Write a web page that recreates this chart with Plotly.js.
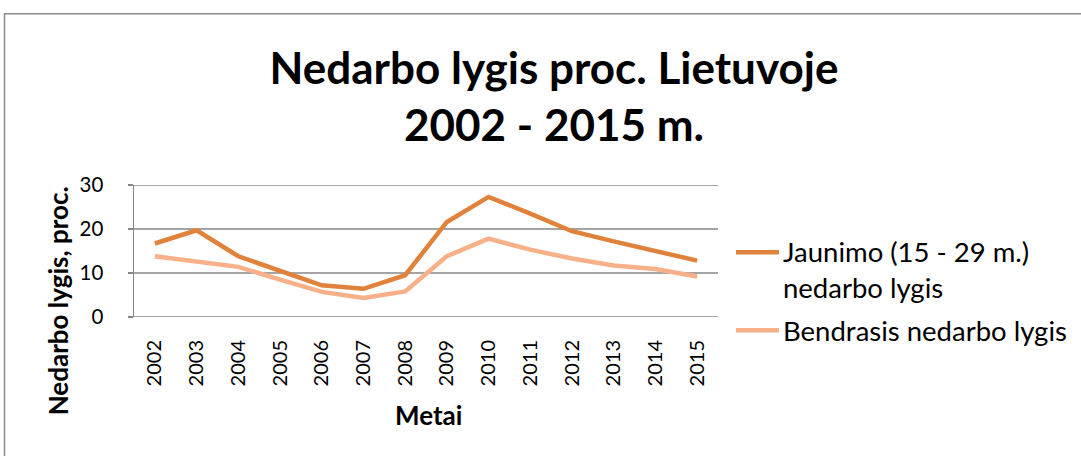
<!DOCTYPE html>
<html>
<head>
<meta charset="utf-8">
<script src="https://cdn.plot.ly/plotly-3.0.1.min.js"></script>
<style>
  html, body { margin: 0; padding: 0; background: #fff; }
  #chart { width: 1081px; height: 456px; }
</style>
</head>
<body>
<div id="chart"></div>
<script>
// ---- Data ----
const years = ["2002","2003","2004","2005","2006","2007","2008","2009","2010","2011","2012","2013","2014","2015"];
const jaunimo = [16.7, 19.7, 13.8, 10.5, 7.2, 6.4, 9.5, 21.6, 27.3, 23.5, 19.5, 17.2, 14.9, 12.8];
const bendras = [13.8, 12.7, 11.4, 8.5, 5.7, 4.3, 5.8, 13.8, 17.8, 15.3, 13.3, 11.7, 10.9, 9.2];
const seriesNames = ["Jaunimo (15 - 29 m.)<br>nedarbo lygis", "Bendrasis nedarbo lygis"];
const yTicks = [0, 10, 20, 30];
const titleText = "<b>Nedarbo lygis proc. Lietuvoje<br>2002 - 2015 m.</b>";
const xTitle = "<b>Metai</b>";
const yTitle = "<b>Nedarbo lygis, proc.</b>";

// ---- Styles / layout geometry ----
const W = 1081, H = 456;
const plotL = 134, plotR = 718, plotT = 184.7, plotB = 316.7;
const colors = ["#E0823B", "#F7B088"];
const gridColor = "#868686";
const FONT = "Lato, 'Open Sans', sans-serif";
const px2x = p => (p - plotL) / (plotR - plotL);
const px2y = p => (plotB - p) / (plotB - plotT);

const traces = [jaunimo, bendras].map((vals, i) => ({
  x: years, y: vals, type: "scatter", mode: "lines",
  name: seriesNames[i],
  line: { color: colors[i], width: 4.5 },
  showlegend: false, hoverinfo: "x+y"
}));

const shapes = [];
const annotations = [];

// horizontal gridlines (including 0 and 30, which Plotly hides at the range edges)
yTicks.forEach(v => {
  shapes.push({
    type: "line", xref: "paper", yref: "y", layer: "below",
    x0: 0, x1: 1, y0: v, y1: v,
    line: { color: gridColor, width: 1.5 }
  });
});

// custom legend
const legendItems = [
  { lineY: 252, textY: 269.5 },
  { lineY: 330, textY: 330 }
];
legendItems.forEach((it, i) => {
  shapes.push({
    type: "line", xref: "paper", yref: "paper",
    x0: px2x(736), x1: px2x(779), y0: px2y(it.lineY), y1: px2y(it.lineY),
    line: { color: colors[i], width: 4.5 }
  });
  annotations.push({
    xref: "paper", yref: "paper", x: px2x(781), y: px2y(it.textY),
    xanchor: "left", yanchor: "middle",
    align: "left", showarrow: false, text: seriesNames[i],
    font: { family: FONT, size: 27.5, color: "#000" }
  });
});
// outer border (top + left visible)
shapes.push({
  type: "path", xref: "paper", yref: "paper",
  path: `M ${px2x(W + 10)} ${px2y(13.5)} L ${px2x(4.5)} ${px2y(13.5)} L ${px2x(4.5)} ${px2y(H + 10)}`,
  line: { color: "#8A8A8A", width: 1.5 }
});
// axis titles
annotations.push({
  xref: "paper", yref: "paper", x: px2x(58), y: px2y(301),
  xanchor: "center", yanchor: "middle", textangle: -90, showarrow: false,
  text: yTitle, font: { family: FONT, size: 26, color: "#000" }
});
annotations.push({
  xref: "paper", yref: "paper", x: px2x(428), y: px2y(415),
  xanchor: "center", yanchor: "middle", showarrow: false,
  text: xTitle, font: { family: FONT, size: 26, color: "#000" }
});

const layout = {
  width: W, height: H,
  margin: { l: plotL, r: W - plotR, t: plotT, b: H - plotB, pad: 0 },
  paper_bgcolor: "#fff", plot_bgcolor: "#fff",
  title: {
    text: titleText, xref: "container", yref: "container",
    x: 554 / W, xanchor: "center", y: 1 - 84 / H, yanchor: "middle",
    font: { family: FONT, size: 44, color: "#000" }
  },
  xaxis: {
    type: "category", range: [-0.5, years.length - 0.5],
    tickangle: -90, showgrid: false, zeroline: false,
    showline: false, ticks: "", ticklabelstandoff: 18,
    tickfont: { family: FONT, size: 20, color: "#000" },
    fixedrange: true
  },
  yaxis: {
    range: [0, 30], tickvals: yTicks, ticktext: yTicks.map(String),
    showgrid: false,
    zeroline: false, showline: true, linecolor: gridColor, linewidth: 1.5,
    ticks: "outside", ticklen: 5, tickcolor: gridColor, tickwidth: 1.5,
    ticklabelstandoff: 20,
    tickfont: { family: FONT, size: 20.5, color: "#000" },
    fixedrange: true
  },
  shapes: shapes,
  annotations: annotations,
  showlegend: false
};

Plotly.newPlot("chart", traces, layout, { displayModeBar: false, staticPlot: true });
</script>
</body>
</html>
